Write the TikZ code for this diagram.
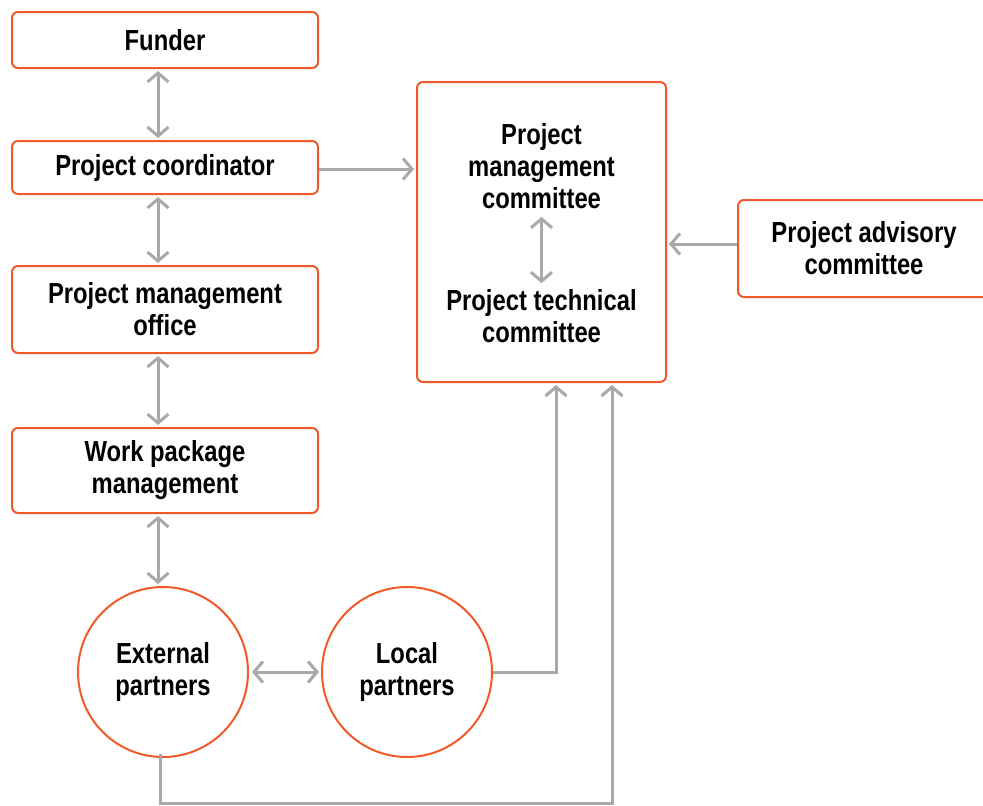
\documentclass[tikz,border=0pt]{standalone}
\usepackage{fontspec}
\setmainfont{Liberation Sans}[FakeStretch=0.82]
\usetikzlibrary{arrows.meta, positioning, calc}
\definecolor{MainOrange}{RGB}{240,90,40}
\definecolor{LinkGray}{RGB}{167,169,172}

\begin{document}
\begin{tikzpicture}[
    x=1pt, y=-1pt,
    font=\fontsize{29}{32}\selectfont\bfseries,
    flow/.style={-{Straight Barb[length=9pt, width=21pt, line width=3pt]}, line width=3pt, LinkGray},
    biflow/.style={flow, {Straight Barb[length=9pt, width=21pt, line width=3pt]}-{Straight Barb[length=9pt, width=21pt, line width=3pt]}},
    box/.style={draw=MainOrange, line width=2pt, rounded corners=6pt, fill=white, align=center,
        minimum width=306pt, inner sep=0pt},
    circ/.style={draw=MainOrange, line width=2pt, circle, fill=white, align=center,
        minimum size=170pt, inner sep=0pt},
]
\clip (0,0) rectangle (983,806);

% ---- left column ----
\node[box, minimum height=56pt] (fund) at (165,40) {Funder};
\node[box, minimum height=53pt] (coord) at (165,167.5) {\raisebox{-2pt}{Project coordinator}};
\node[box, minimum height=87pt] (pmo) at (165,309.5) {Project management\\office};
\node[box, minimum height=85pt] (wpm) at (165,470.5) {Work package\\management};

% ---- partners ----
\node[circ] (ext) at (163,672) {External\\partners};
\node[circ] (loc) at (407,672) {Local\\partners};

% ---- committees ----
\node[box, minimum width=249pt, minimum height=300pt] (pmc) at (541.5,232) {};
\node[align=center, inner sep=0pt] (pmcx) at (541.5,166) {Project\\management\\committee};
\node[align=center, inner sep=0pt] (ptc) at (541.5,316) {Project technical\\committee};
\node[box, minimum width=252pt, minimum height=97pt] (adv) at (864,248.5) {Project advisory\\committee};

% ---- links ----
\draw[biflow, shorten <=2pt, shorten >=2pt] ([xshift=-7pt]fund.south) -- ([xshift=-7pt]coord.north);
\draw[biflow, shorten <=2pt, shorten >=2pt] ([xshift=-7pt]coord.south) -- ([xshift=-7pt]pmo.north);
\draw[biflow, shorten <=2pt, shorten >=2pt] ([xshift=-7pt]pmo.south) -- ([xshift=-7pt]wpm.north);
\draw[biflow, shorten <=2pt, shorten >=2pt] ([xshift=-7pt]wpm.south) -- ([xshift=-5pt]ext.north);
\draw[biflow, shorten <=3pt, shorten >=2pt] (ext.east) -- (loc.west);
\draw[flow, shorten >=2pt] ([yshift=-1.5pt]coord.east) -- ([yshift=-1.5pt]coord.east -| pmc.west);
\draw[flow, shorten >=2pt] ([yshift=4.5pt]adv.west) -- ([yshift=4.5pt]adv.west -| pmc.east);
\draw[biflow, shorten <=8pt, shorten >=6pt] (pmcx.south) -- (ptc.north);
\draw[flow, shorten >=2pt] (loc.east) -| ([xshift=14.5pt]pmc.south);
\coordinate (bend) at ($(ext.south)+(-3,45)$);
\draw[flow, shorten >=2pt] ([xshift=-3pt, yshift=4pt]ext.south) -- (bend) -| ([xshift=70.5pt]pmc.south);

\end{tikzpicture}
\end{document}
